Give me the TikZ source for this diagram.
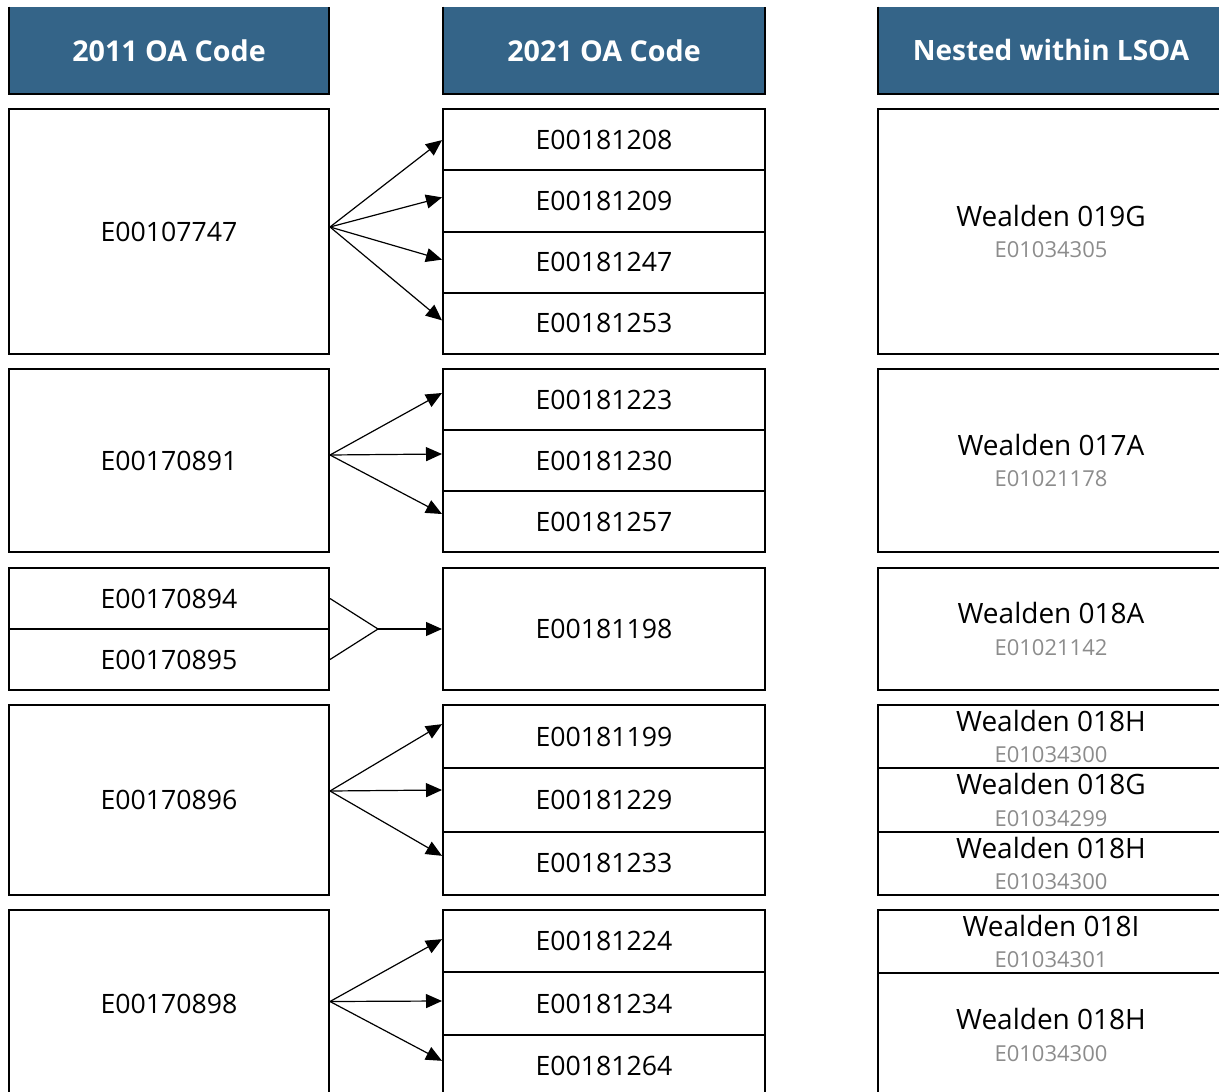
\documentclass[tikz,border=0pt]{standalone}
\usepackage{fontspec}
\setmainfont{Open Sans}
\usetikzlibrary{arrows.meta,calc}

\definecolor{headblue}{RGB}{52,100,136}
\definecolor{codegrey}{RGB}{140,140,140}

%Box from (x1,y1) to (x2,y2), in pixels of the sheet
\newcommand{\cellbox}[7][cell]{%
  \pgfmathsetmacro{\cx}{((#3)+(#5))/2}%
  \pgfmathsetmacro{\cy}{((#4)+(#6))/2}%
  \pgfmathsetmacro{\cw}{((#5)-(#3))*0.75}%
  \pgfmathsetmacro{\ch}{((#6)-(#4))*0.75}%
  \node[#1,minimum width=\cw pt,minimum height=\ch pt] (#2) at (\cx,\cy) {#7};%
}
%LSOA name with its code below
\newcommand{\lsoa}[2]{{\fontsize{21}{23.5}\selectfont #1}\\{\color{codegrey}\fontsize{16.5}{20}\selectfont #2}}

\begin{document}
\begin{tikzpicture}[x=0.75pt,y=-0.75pt,
     cell/.style={draw,line width=1.5pt,inner sep=0pt,align=center,
       font=\fontsize{20}{23.5}\selectfont},
     head/.style={fill=headblue,inner sep=0pt,text=white,
       font=\fontsize{21.5}{24}\selectfont\bfseries},
     edge/.style={line width=1.5pt},
     link/.style={line width=0.9pt,-{Triangle[length=12pt,width=10.5pt]}}
     ]
\useasboundingbox (0,0) rectangle (1219,1091);
\clip (0,0) rectangle (1219,1091);

%Column heads
\cellbox[head]{h1}{9}{7}{329}{94}{2011 OA Code}
\cellbox[head]{h2}{443}{7}{765}{94}{2021 OA Code}
\cellbox[head]{h3}{878}{7}{1224}{94}{\fontsize{21}{24}\selectfont Nested within LSOA}
\foreach \h in {h1,h2,h3}
  \draw[edge] (\h.north west) |- (\h.south east) -- (\h.north east);

%2011 codes
\cellbox{a1}{9}{109}{329}{354}{E00107747}
\cellbox{a2}{9}{369}{329}{552}{E00170891}
\cellbox{a31}{9}{568}{329}{629}{E00170894}
\cellbox{a32}{9}{629}{329}{690}{E00170895}
\cellbox{a4}{9}{705}{329}{895}{E00170896}
\cellbox{a5}{9}{910}{329}{1097}{E00170898}

%2021 codes
\foreach [count=\i] \t in {E00181208,E00181209,E00181247,E00181253}
  {\cellbox{b1\i}{443}{109+(\i-1)*61.25}{765}{109+\i*61.25}{\t}}
\foreach [count=\i] \t in {E00181223,E00181230,E00181257}
  {\cellbox{b2\i}{443}{369+(\i-1)*61}{765}{369+\i*61}{\t}}
\cellbox{b3}{443}{568}{765}{690}{E00181198}
\foreach [count=\i] \t in {E00181199,E00181229,E00181233}
  {\cellbox{b4\i}{443}{705+(\i-1)*63.33}{765}{705+\i*63.33}{\t}}
\foreach [count=\i] \t in {E00181224,E00181234,E00181264}
  {\cellbox{b5\i}{443}{910+(\i-1)*62.33}{765}{910+\i*62.33}{\t}}

%LSOAs
\cellbox{c1}{878}{109}{1224}{354}{\lsoa{Wealden 019G}{E01034305}}
\cellbox{c2}{878}{369}{1224}{552}{\lsoa{Wealden 017A}{E01021178}}
\cellbox{c3}{878}{568}{1224}{690}{\lsoa{Wealden 018A}{E01021142}}
\foreach [count=\i] \lab/\cod in {018H/E01034300,018G/E01034299,018H/E01034300}
  {\cellbox{c4\i}{878}{705+(\i-1)*63.33}{1224}{705+\i*63.33}{\lsoa{Wealden \lab}{\cod}}}
\cellbox{c51}{878}{910}{1224}{973}{\lsoa{Wealden 018I}{E01034301}}
\cellbox{c52}{878}{973}{1224}{1097}{\lsoa{Wealden 018H}{E01034300}}

%Splits
\foreach \k/\d in {1/0.5,2/-3.5,3/-2.5,4/-3}
  \draw[link] ($(a1.east)+(0,-4.5)$) -- ($(b1\k.west)+(0,\d)$);
\foreach \k/\d in {1/-6.5,2/-6.5,3/-7.5}
  \draw[link] ($(a2.east)+(0,-5.5)$) -- ($(b2\k.west)+(0,\d)$);
\foreach \k/\d in {1/-12.5,2/-10,3/-7.5}
  \draw[link] ($(a4.east)+(0,-9)$) -- ($(b4\k.west)+(0,\d)$);
\foreach \k/\d in {1/-2,2/-2.5,3/-5}
  \draw[link] ($(a5.east)+(0,-2)$) -- ($(b5\k.west)+(0,\d)$);

%Merge
\coordinate (join) at (378,629);
\draw[line width=0.9pt] (a31.east) -- (join) -- (a32.east);
\draw[link] (join) -- (b3.west);
\end{tikzpicture}
\end{document}
